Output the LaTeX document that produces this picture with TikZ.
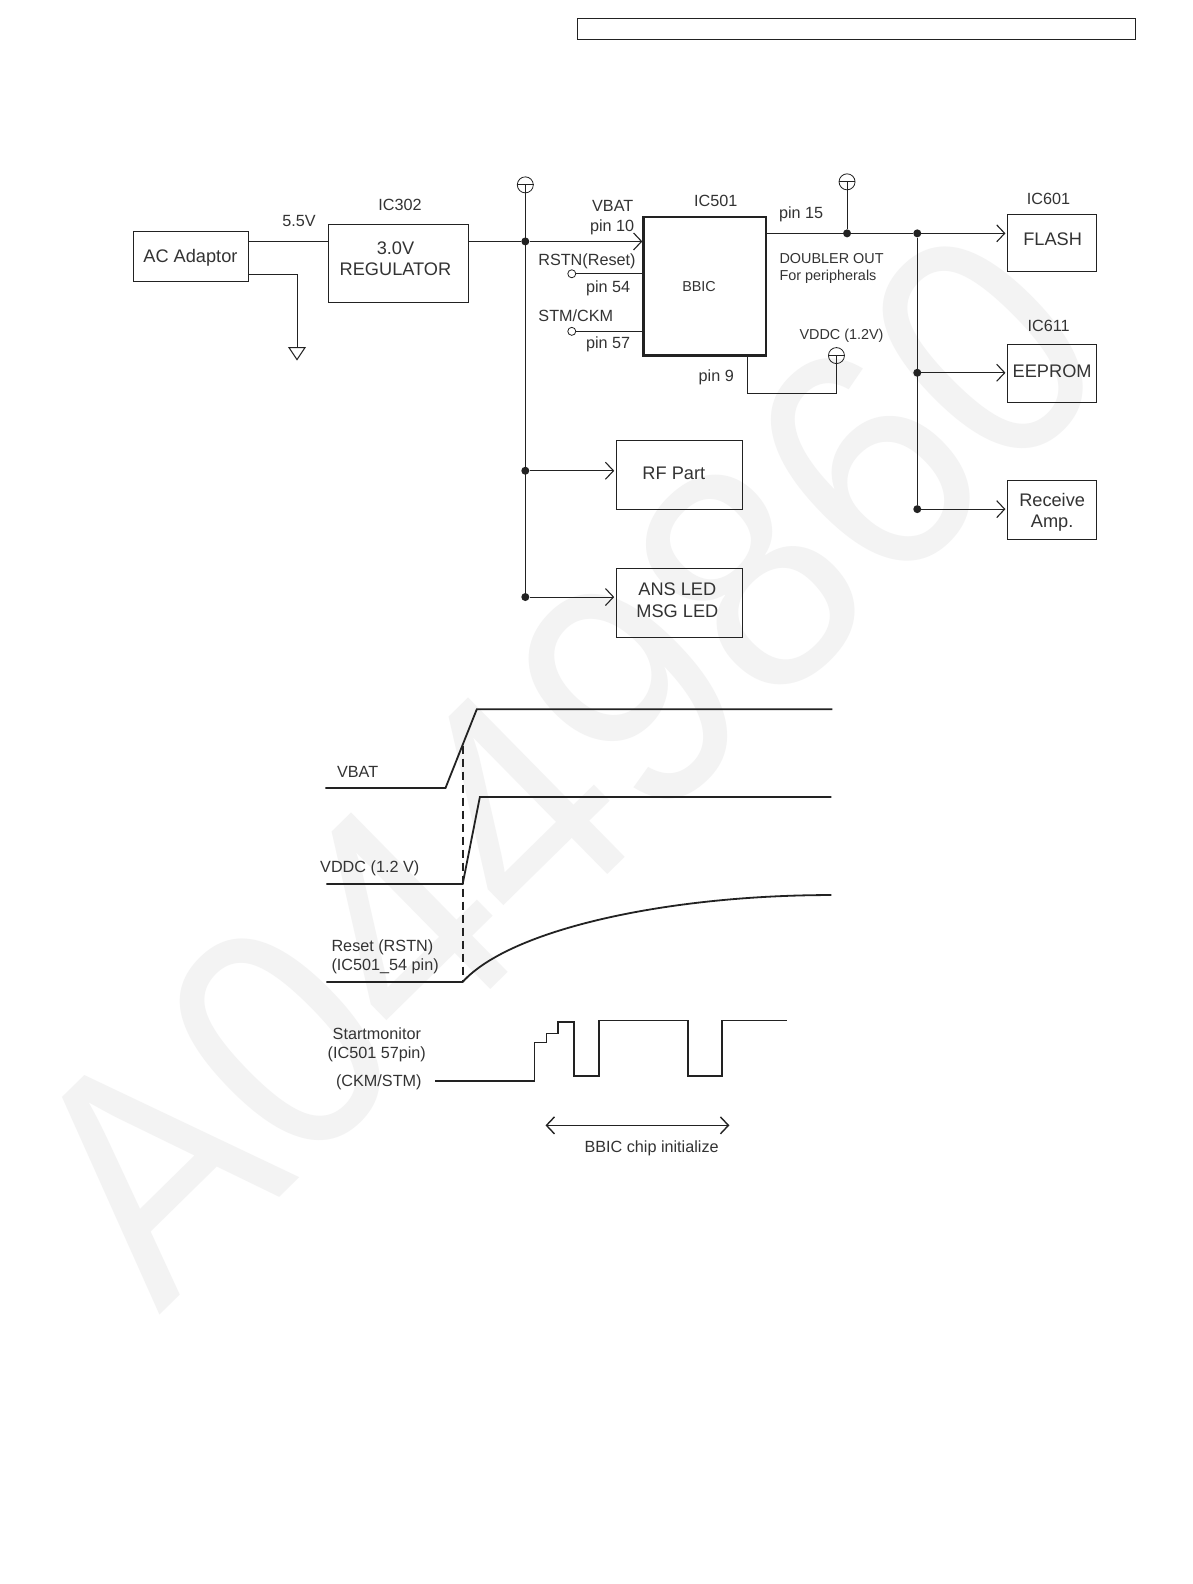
\documentclass[tikz,border=0pt]{standalone}
\usepackage{fontspec}
\setmainfont{Liberation Sans}
\usetikzlibrary{arrows.meta}
\definecolor{inkline}{HTML}{222222}
\definecolor{inktext}{HTML}{333333}
\definecolor{marktext}{HTML}{F3F3F3}
\tikzset{
  wire/.style={draw=inkline,line width=1pt},
  wave/.style={draw=inkline,line width=1.8pt,line join=miter},
  feed/.style={wire,-{Straight Barb[length=8pt,width=17pt,line width=1.1pt]},shorten >=1.5pt},
  blockbox/.style={draw=inkline,line width=1pt,inner sep=0pt},
  boxtext/.style={align=center,text=inktext,font=\fontsize{18.2}{21.6}\selectfont,inner sep=0pt},
  lbl/.style={text=inktext,font=\fontsize{16.2}{19.2}\selectfont,inner sep=0pt,text height=11.6pt,text depth=0pt},
  smalllbl/.style={text=inktext,font=\fontsize{14.4}{17.2}\selectfont,inner sep=0pt,text height=10.4pt,text depth=0pt},
  dot/.style={circle,fill=inkline,minimum size=8pt,inner sep=0pt},
  pinring/.style={circle,draw=inkline,fill=white,line width=0.8pt,minimum size=8pt,inner sep=0pt},
  railsym/.style={circle,draw=inkline,line width=0.8pt,minimum size=16pt,inner sep=0pt}
}
\begin{document}
\begin{tikzpicture}[x=1.0102pt,y=-1.0102pt]
    \useasboundingbox (0,0) rectangle (1180,1568);
    \fill[white] (0,0) rectangle (1180,1568);
    \node[rotate=44.5,xscale=0.91,transform shape,text=marktext,font=\fontsize{325}{325}\selectfont,inner sep=0pt,text height=233pt,text depth=0pt] (mark) at (553,752) {A0449860};

    \node[blockbox,minimum width=557.6pt,minimum height=21.2pt] (topbar) at (848,28.5) {};

    \node[blockbox,minimum width=114.7pt,minimum height=50.5pt] (adaptor) at (189,254) {};
    \node[blockbox,minimum width=139.9pt,minimum height=77.8pt] (regulator) at (394.5,260.5) {};
    \node[draw=inkline,line width=2.4pt,minimum width=122.2pt,minimum height=138.4pt,inner sep=0pt] (bbic) at (697.5,283.5) {};
    \node[blockbox,minimum width=89.4pt,minimum height=57.6pt] (flash) at (1041.5,240.5) {};
    \node[blockbox,minimum width=89.4pt,minimum height=57.6pt] (eeprom) at (1041.5,369.5) {};
    \node[blockbox,minimum width=89.4pt,minimum height=58.6pt] (receive) at (1041.5,505) {};
    \node[blockbox,minimum width=126.3pt,minimum height=68.7pt] (rfpart) at (672.5,470) {};
    \node[blockbox,minimum width=126.3pt,minimum height=68.7pt] (ledbox) at (672.5,597) {};

    \node[boxtext] (adaptortext) at (188.5,255.5) {AC Adaptor};
    \node[boxtext] (regtext) at (391.5,256) {3.0V\\REGULATOR};
    \node[boxtext] (flashtext) at (1042,237) {FLASH};
    \node[boxtext] (eepromtext) at (1041.5,367.5) {EEPROM};
    \node[boxtext] (receivetext) at (1041.5,507) {Receive\\Amp.};
    \node[boxtext] (rftext) at (667,469) {RF Part};
    \node[boxtext] (ledtext) at (670.5,594) {ANS LED\\MSG LED};

    \node[dot] (vjoin) at (520,239) {};
    \node[dot] (rfjoin) at (520,466) {};
    \node[dot] (ledjoin) at (520,591) {};
    \node[dot] (tapjoin) at (838.5,231) {};
    \node[dot] (flashjoin) at (908,231) {};
    \node[dot] (eepjoin) at (908,369) {};
    \node[dot] (recjoin) at (908,504) {};
    \node[railsym] (railone) at (520,183) {};
    \node[railsym] (railtwo) at (838.5,180) {};
    \node[railsym] (railvddc) at (828,352) {};
    \node[pinring] (rstnpin) at (566,271) {};
    \node[pinring] (stmpin) at (566,328) {};
    \coordinate (gndtap) at (246,272);
    \coordinate (gndtop) at (294,344);
    \coordinate (pinnine) at (740,352);

    \draw[wire] (adaptor.east |- vjoin) -- (regulator.west |- vjoin);
    \draw[wire] (regulator.east |- vjoin) -- (vjoin);
    \draw[wire] (gndtap) -| (gndtop);
    \draw[wire] (gndtop) ++(-8,0) -- ++(16,0) -- ++(-8,12) -- cycle;
    \draw[wire] (railone.center) -- (ledjoin);
    \draw[wire] (railone.west) -- (railone.east);
    \draw[feed,shorten >=0pt] (vjoin) -- (bbic.west |- vjoin);
    \draw[wire] (rstnpin) -- (bbic.west |- rstnpin);
    \draw[wire] (stmpin) -- (bbic.west |- stmpin);
    \draw[wire] (bbic.east |- tapjoin) -- (tapjoin);
    \draw[wire] (railtwo.center) -- (tapjoin);
    \draw[wire] (railtwo.west) -- (railtwo.east);
    \draw[wire] (tapjoin) -- (flashjoin);
    \draw[feed] (flashjoin) -- (flash.west |- flashjoin);
    \draw[wire] (flashjoin) -- (recjoin);
    \draw[feed] (eepjoin) -- (eeprom.west |- eepjoin);
    \draw[feed] (recjoin) -- (receive.west |- recjoin);
    \draw[feed] (rfjoin) -- (rfpart.west |- rfjoin);
    \draw[feed] (ledjoin) -- (ledbox.west |- ledjoin);
    \draw[wire] (pinnine) -- (740,390) -| (railvddc.center);
    \draw[wire] (railvddc.west) -- (railvddc.east);

    \node[lbl] (volt) at (296,218) {5.5V};
    \node[lbl] (ictwo) at (396,203) {IC302};
    \node[lbl] (vbatname) at (606.5,204) {VBAT};
    \node[lbl] (pinten) at (606,223) {pin 10};
    \node[lbl] (rstnname) at (581,257) {RSTN(Reset)};
    \node[lbl] (pinfour) at (602,284) {pin 54};
    \node[lbl] (stmname) at (570,313) {STM/CKM};
    \node[lbl] (pinseven) at (602,339) {pin 57};
    \node[lbl] (icfive) at (708.5,199) {IC501};
    \node[smalllbl] (bbicname) at (692,283) {BBIC};
    \node[lbl] (pinfifteen) at (793,211) {pin 15};
    \node[smalllbl,anchor=west] (doubler) at (771.5,256) {DOUBLER OUT};
    \node[smalllbl,anchor=west] (periph) at (771.5,273) {For peripherals};
    \node[smalllbl] (vddcname) at (833,331) {VDDC (1.2V)};
    \node[lbl] (pinnnine) at (709,372) {pin 9};
    \node[lbl] (icsix) at (1038,197) {IC601};
    \node[lbl] (icsixb) at (1038,322) {IC611};

    \draw[wave] (322,780) -- (441,780) -- (472,702) -- (824,702);
    \draw[wave] (323,875) -- (458,875) -- (475,789) -- (823,789);
    \draw[wave] (323,972) -- (458,972) .. controls (505,920) and (660,886) .. (823,886);
    \draw[wave,dash pattern=on 8pt off 5pt] (458,738) -- (458,972);
    \draw[wave] (431,1070) -- (529,1070) -- (529,1032) -- (541,1032) -- (541,1023) -- (552,1023) -- (552,1012) -- (568,1012) -- (568,1065) -- (593,1065) -- (593,1010);
    \draw[wire,line width=1.2pt] (593,1010) -- (681,1010);
    \draw[wave] (681,1010) -- (681,1065) -- (715,1065) -- (715,1010);
    \draw[wire] (715,1010) -- (779,1010);

    \coordinate (initleft) at (540,1114);
    \coordinate (initright) at (722,1114);
    \draw[wire,line width=1.4pt,{Straight Barb[length=8pt,width=17pt,line width=1.4pt]}-{Straight Barb[length=8pt,width=17pt,line width=1.4pt]}] (initleft) -- (initright);

    \node[lbl] (tvbat) at (354,764) {VBAT};
    \node[lbl] (tvddc) at (366,858) {VDDC (1.2 V)};
    \node[lbl,anchor=west] (treset) at (328,936) {Reset (RSTN)};
    \node[lbl,anchor=west] (tresetpin) at (328,955) {(IC501\_54 pin)};
    \node[lbl] (tstart) at (373,1023) {Startmonitor};
    \node[lbl] (tstartpin) at (373,1042) {(IC501 57pin)};
    \node[lbl] (tckm) at (375,1070) {(CKM/STM)};
    \node[lbl] (tinit) at (645,1135) {BBIC chip initialize};
\end{tikzpicture}
\end{document}
